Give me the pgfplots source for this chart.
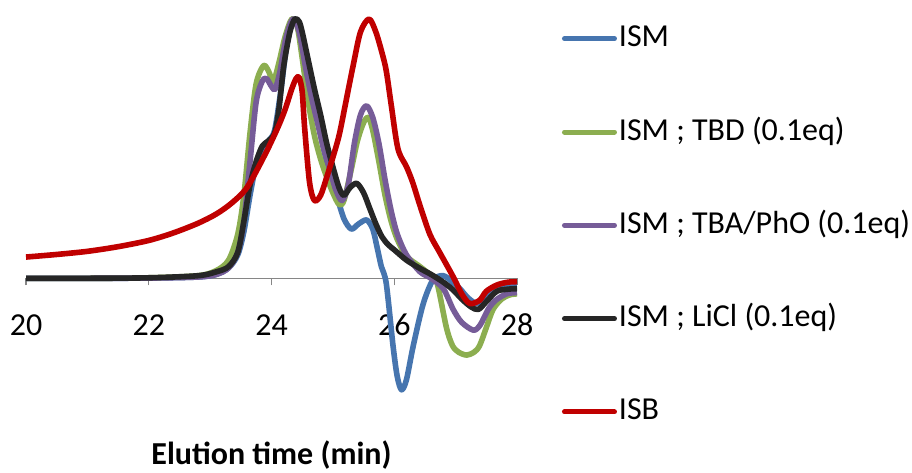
\documentclass[border=0pt]{standalone}
\usepackage{fontspec}
\setmainfont{Carlito}
\usepackage{pgfplots}
\pgfplotsset{compat=1.18}
\definecolor{cBlue}{RGB}{70,117,175}
\definecolor{cGreen}{RGB}{140,174,80}
\definecolor{cPurple}{RGB}{118,92,152}
\definecolor{cBlack}{RGB}{38,38,38}
\definecolor{cRed}{RGB}{192,0,0}
\definecolor{cAxis}{RGB}{134,134,134}
\begin{document}
\begin{tikzpicture}
\useasboundingbox (-26pt,-77pt) rectangle (886pt,395pt);
\begin{axis}[
  scale only axis, width=491pt, height=376pt,
  xmin=20, xmax=28, ymin=-0.45, ymax=1.0,
  axis x line=middle, axis y line=none,
  axis line style={-, cAxis, line width=1.3pt},
  xtick={20,22,24,26,28}, ytick=\empty,
  tick align=outside, major tick length=7pt,
  tick style={cAxis, line width=1.3pt},
  /pgf/number format/assume math mode=true,
  xticklabel style={font=\fontsize{32}{38}\selectfont, anchor=base, inner sep=0pt, yshift=-50pt},
  xlabel={Elution time (min)},
  every axis x label/.style={font=\fontsize{32}{38}\selectfont\bfseries, at={(axis description cs:0.5,0)}, anchor=base, yshift=-69pt},
  clip=false,
  every axis plot/.append style={line width=5.6pt, smooth, no markers, line join=round},
  legend style={draw=none, fill=none, inner sep=0pt, outer sep=0pt, at={(rel axis cs:1.0916,0.990)}, anchor=north west,
    font=\fontsize{32}{38}\selectfont, row sep=61.3pt,
    nodes={text height=24pt, text depth=8pt, inner sep=0pt},
    /tikz/every odd column/.append style={column sep=2pt}},
  legend cell align=left,
  legend image code/.code={\draw[#1, line width=5pt, line cap=round] (2.5pt,0pt) -- (52.5pt,0pt);},
]
% ISM
\addplot[cBlue] coordinates {
(20,0) (21,0) (22,0.001) (22.8,0.005) (23.1,0.015) (23.3,0.04) (23.45,0.09) (23.55,0.18) (23.65,0.32) (23.75,0.44) (23.85,0.50) (23.95,0.53) (24.05,0.57) (24.15,0.72) (24.25,0.90) (24.36,1.0) (24.45,0.96) (24.55,0.84) (24.65,0.72) (24.75,0.61) (24.85,0.50) (24.95,0.40) (25.06,0.32) (25.18,0.23) (25.3,0.19) (25.42,0.21) (25.55,0.225) (25.65,0.19) (25.72,0.12) (25.79,0.045) (25.87,-0.02) (25.98,-0.26) (26.05,-0.38) (26.12,-0.43) (26.2,-0.39) (26.31,-0.26) (26.47,-0.10) (26.63,-0.007) (26.8,0.01) (26.95,-0.015) (27.07,-0.04) (27.2,-0.075) (27.34,-0.097) (27.45,-0.08) (27.61,-0.045) (27.8,-0.035) (28,-0.03)
};
\addlegendentry{ISM}
% ISM ; TBD
\addplot[cGreen] coordinates {
(20,0) (21,0) (22,0.002) (22.8,0.01) (23.1,0.03) (23.3,0.07) (23.45,0.17) (23.55,0.32) (23.65,0.56) (23.75,0.75) (23.87,0.82) (23.95,0.80) (24.03,0.76) (24.12,0.83) (24.22,0.93) (24.33,1.0) (24.42,0.97) (24.5,0.85) (24.6,0.68) (24.7,0.55) (24.8,0.46) (24.9,0.39) (25.0,0.33) (25.1,0.285) (25.18,0.30) (25.3,0.42) (25.4,0.53) (25.5,0.60) (25.58,0.62) (25.65,0.57) (25.75,0.45) (25.85,0.32) (25.95,0.22) (26.05,0.15) (26.2,0.085) (26.42,0.045) (26.6,0.01) (26.7,-0.02) (26.85,-0.19) (26.95,-0.26) (27.05,-0.285) (27.18,-0.296) (27.3,-0.285) (27.39,-0.26) (27.5,-0.19) (27.61,-0.12) (27.75,-0.08) (27.88,-0.064) (28,-0.06)
};
\addlegendentry{ISM ; TBD (0.1eq)}
% ISM ; TBA/PhO
\addplot[cPurple] coordinates {
(20,0) (21,0) (22,0.001) (22.8,0.005) (23.1,0.015) (23.3,0.04) (23.45,0.10) (23.55,0.22) (23.65,0.45) (23.75,0.68) (23.85,0.76) (23.92,0.77) (24.0,0.74) (24.06,0.73) (24.14,0.80) (24.24,0.93) (24.35,1.0) (24.45,0.95) (24.55,0.82) (24.65,0.70) (24.75,0.60) (24.85,0.50) (24.95,0.42) (25.05,0.34) (25.15,0.30) (25.25,0.36) (25.35,0.52) (25.45,0.63) (25.55,0.665) (25.65,0.62) (25.75,0.52) (25.85,0.38) (25.95,0.26) (26.05,0.17) (26.2,0.09) (26.42,0.025) (26.6,0.0) (26.8,-0.04) (26.96,-0.12) (27.1,-0.17) (27.29,-0.20) (27.4,-0.18) (27.53,-0.12) (27.65,-0.085) (27.83,-0.06) (28,-0.055)
};
\addlegendentry{ISM ; TBA/PhO (0.1eq)}
% ISM ; LiCl
\addplot[cBlack] coordinates {
(20,0) (21,0) (22,0.002) (22.8,0.01) (23.1,0.025) (23.3,0.045) (23.45,0.10) (23.55,0.22) (23.65,0.36) (23.75,0.45) (23.85,0.51) (23.95,0.53) (24.05,0.56) (24.12,0.65) (24.2,0.82) (24.3,0.95) (24.38,1.0) (24.45,0.99) (24.5,0.95) (24.6,0.84) (24.7,0.73) (24.8,0.63) (24.9,0.52) (25.0,0.43) (25.1,0.35) (25.18,0.32) (25.28,0.35) (25.39,0.366) (25.5,0.33) (25.6,0.27) (25.7,0.21) (25.8,0.16) (25.9,0.13) (26.0,0.11) (26.2,0.07) (26.42,0.038) (26.6,0.015) (26.8,-0.015) (26.96,-0.045) (27.1,-0.08) (27.25,-0.11) (27.37,-0.12) (27.5,-0.09) (27.67,-0.05) (27.85,-0.042) (28,-0.04)
};
\addlegendentry{ISM ; LiCl (0.1eq)}
% ISB
\addplot[cRed] coordinates {
(20,0.082) (20.5,0.092) (21,0.104) (21.5,0.122) (22,0.146) (22.4,0.175) (22.8,0.212) (23.1,0.248) (23.35,0.29) (23.6,0.35) (23.9,0.48) (24.1,0.58) (24.22,0.65) (24.33,0.73) (24.4,0.77) (24.45,0.775) (24.5,0.72) (24.54,0.58) (24.62,0.37) (24.7,0.30) (24.8,0.32) (24.9,0.39) (25.03,0.49) (25.11,0.56) (25.22,0.69) (25.33,0.82) (25.45,0.95) (25.59,1.0) (25.7,0.95) (25.8,0.87) (25.87,0.80) (25.95,0.67) (26.06,0.50) (26.2,0.43) (26.3,0.37) (26.42,0.28) (26.58,0.17) (26.74,0.10) (26.96,0.006) (27.1,-0.06) (27.23,-0.097) (27.39,-0.085) (27.5,-0.05) (27.67,-0.026) (27.85,-0.015) (28,-0.013)
};
\addlegendentry{ISB}
\end{axis}
\end{tikzpicture}
\end{document}
